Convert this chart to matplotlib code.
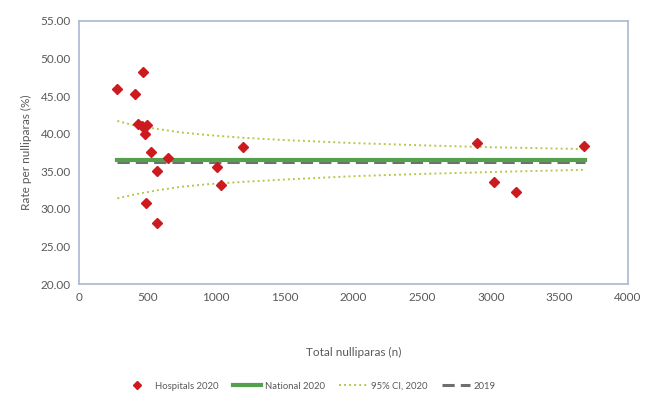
import matplotlib.pyplot as plt

# Hospital-level rates against number of nulliparas
hosp_n = [279, 405, 432, 460, 465, 480, 485, 497, 524, 565, 565, 647,
          1006, 1035, 1195, 2897, 3023, 3188, 3680]
hosp_rate = [45.9, 45.3, 41.3, 41.0, 48.2, 40.0, 30.8, 41.1, 37.5, 35.1, 28.1, 36.7,
             35.6, 33.2, 38.2, 38.8, 33.6, 32.2, 38.4]

# National reference lines
line_n = [279, 3690]
national_2020 = [36.45, 36.45]
rate_2019 = [36.3, 36.3]

# 95% control limits around the national rate
ci_n = [279, 400, 580, 750, 950, 1200, 1500, 2000, 2500, 3000, 3690]
ci_upper = [41.7, 41.1, 40.6, 40.15, 39.8, 39.45, 39.15, 38.75, 38.45, 38.2, 37.95]
ci_lower = [31.4, 31.9, 32.5, 32.95, 33.3, 33.6, 33.9, 34.35, 34.65, 34.9, 35.2]

plt.rcParams['font.family'] = ['Lato', 'DejaVu Sans']
text_col = '#595959'

fig = plt.figure(figsize=(6.48, 3.94), dpi=100)
ax = fig.add_axes([0.122, 0.279, 0.847, 0.668])

ax.plot(line_n, rate_2019, color='#6f6f6f', lw=2.2, ls=(0, (4, 2)), label='2019', zorder=2)
ax.plot(line_n, national_2020, color='#55a04c', lw=3.0, label='National 2020', zorder=3)
ax.plot(ci_n, ci_upper, color='#b5c84a', lw=1.4, ls=(0, (1, 1.6)), label='95% CI, 2020', zorder=2)
ax.plot(ci_n, ci_lower, color='#b5c84a', lw=1.4, ls=(0, (1, 1.6)), zorder=2)
ax.plot(hosp_n, hosp_rate, ls='none', marker='D', ms=4.8, color='#cc1a1f',
        label='Hospitals 2020', zorder=4)

ax.set_xlim(0, 4000)
ax.set_ylim(20, 55)
ax.set_xticks(range(0, 4001, 500))
ax.set_yticks(range(20, 56, 5))
ax.set_yticklabels([f'{v:.2f}' for v in range(20, 56, 5)])
ax.tick_params(length=0, labelsize=8.5, colors=text_col, pad=6)

for s in ax.spines.values():
    s.set_color('#aab8d2')
    s.set_linewidth(1.2)

ax.set_xlabel('Total nulliparas (n)', fontsize=8.5, color=text_col, labelpad=31)
ax.set_ylabel('Rate per nulliparas (%)', fontsize=8.5, color=text_col, labelpad=6)

handles, labels = ax.get_legend_handles_labels()
order = [3, 1, 2, 0]
ax.legend([handles[i] for i in order], [labels[i] for i in order],
          loc='center', bbox_to_anchor=(0.42, -0.388), ncol=4, frameon=False,
          fontsize=6.8, labelcolor=text_col, handlelength=3.0, columnspacing=1.5,
          handletextpad=0.4, markerscale=0.8)

fig.savefig('out.png', dpi=100)
